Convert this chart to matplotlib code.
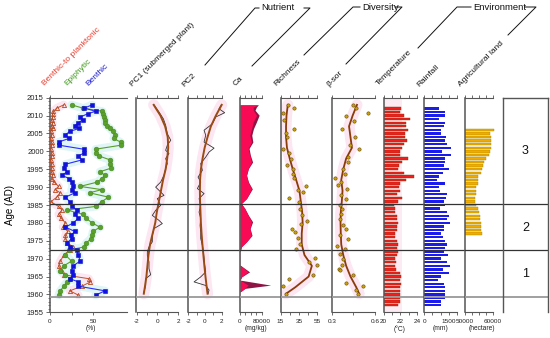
import matplotlib
matplotlib.use('Agg')
import matplotlib.pyplot as plt
from matplotlib.lines import Line2D

plt.rcParams['font.family'] = ['Liberation Sans', 'DejaVu Sans']

W, H = 550, 338

# ---- diatoms (%), one sample list shared by the three series
diatom_yr = [2013.0, 2012.1, 2011.2, 2010.5, 2009.6, 2008.8, 2008.0, 2007.2, 2006.4, 2005.6,
             2004.6, 2003.6, 2002.6, 2001.7, 2000.6, 1999.6, 1998.7, 1997.6, 1996.4, 1995.3,
             1994.3, 1993.3, 1992.4, 1991.4, 1990.2, 1989.3, 1988.4, 1987.2, 1985.9, 1984.6,
             1983.6, 1982.4, 1981.3, 1980.0, 1978.8, 1977.6, 1976.5, 1975.6, 1974.4, 1973.3,
             1972.4, 1971.0, 1969.3, 1968.0, 1966.6, 1965.5, 1964.4, 1963.5, 1962.3, 1961.0, 1959.8]
benthic = [49, 40, 53, 44, 35, 38, 33, 29, 34, 23, 18, 22, 10, 11, 39, 40, 33, 37, 18, 16,
           20, 14, 22, 25, 27, 25, 29, 18, 23, 26, 31, 29, 33, 27, 18, 29, 24, 25, 20, 23,
           31, 33, 35, 27, 25, 27, 23, 33, 33, 64, 53]
epiphytic = [25, 38, 61, 62, 63, 64, 64, 66, 70, 73, 76, 74, 82, 82, 53, 53, 57, 70, 70, 71,
             58, 64, 60, 55, 35, 60, 46, 68, 60, 53, 20, 38, 42, 49, 58, 50, 49, 48, 42, 40,
             22, 18, 25, 16, 12, 18, 23, 20, 16, 12, 10]
benthic_plank = [16, 8, 4, 3, 3, 2, 3, 2, 3, 1, 2, 1, 2, 2, 1, 2, 2, 1, 2, 2,
                 2, 3, 2, 5, 10, 6, 12, 8, 1, 10, 14, 10, 13, 18, 15, 21, 18, 18, 20, 27,
                 23, 16, 12, 10, 14, 16, 45, 47, 37, 23, 33]

# ---- PCA scores
pc1_yr = [2013.0, 2011.0, 2009.1, 2007.3, 2004.9, 2003.1, 2001.7, 2000.3, 1999.4, 1998.0,
          1996.6, 1995.2, 1993.3, 1991.4, 1990.0, 1989.1, 1987.7, 1986.8, 1984.9, 1983.5,
          1982.1, 1980.7, 1979.8, 1978.4, 1976.5, 1974.7, 1973.3, 1971.9, 1970.9, 1969.1,
          1967.2, 1965.5, 1964.4, 1962.5, 1960.7]
pc1 = [-0.32, 0.16, 0.58, 0.8, 0.96, 1.29, 0.96, 0.8, 1.12, 0.8, 0.96, 0.8, 0.64, 0.32, -0.16,
       0.16, 0.64, 0.0, 0.32, -0.16, -0.48, 0.16, 0.48, -0.32, -0.48, -0.48, -0.8, -0.96, -0.96,
       -0.8, -0.8, -0.64, -1.12, -1.12, -1.28]
pc2_yr = [2013.0, 2011.9, 2010.8, 2009.6, 2007.7, 2005.9, 2004.5, 2002.6, 2000.9, 1999.8,
          1998.4, 1996.6, 1994.7, 1992.8, 1991.4, 1989.6, 1988.2, 1986.8, 1984.9, 1983.0,
          1981.2, 1979.3, 1977.4, 1975.6, 1973.7, 1971.9, 1970.0, 1968.1, 1966.3, 1964.9,
          1963.5, 1962.5, 1961.2, 1960.2]
pc2 = [1.96, 1.68, 2.36, 1.28, 0.88, -0.12, 0.08, -0.12, 1.08, 0.48, 0.08, -0.52, -0.32, -0.84,
       -0.52, -0.92, -0.12, -0.72, -0.52, -0.72, -0.52, -0.6, -0.52, -0.52, -0.32, -0.2, -0.12,
       -0.04, 0.08, -0.52, -1.32, 0.08, 0.48, 0.36]

# smoothed curves
smooth_yr = [2013, 2010, 2007, 2004, 2001, 1998, 1995, 1992, 1989, 1986,
             1983, 1980, 1977, 1974, 1971, 1968, 1965, 1962, 1960.2]
pc1_smooth = [-0.35, 0.3, 0.75, 1.0, 1.05, 0.95, 0.8, 0.55, 0.35, 0.15,
              -0.05, -0.2, -0.45, -0.7, -0.85, -0.95, -1.05, -1.2, -1.3]
pc2_smooth = [2.0, 1.3, 0.7, 0.3, -0.05, -0.3, -0.5, -0.6, -0.62, -0.6,
              -0.55, -0.5, -0.42, -0.32, -0.2, -0.08, 0.05, 0.2, 0.3]
rich_smooth = [22.9, 21.5, 21.0, 21.0, 22.0, 25.0, 28.3, 32.0, 35.5, 37.0,
               38.5, 39.0, 38.0, 38.0, 41.0, 49.0, 45.5, 31.0, 21.0]
beta_smooth = [0.475, 0.445, 0.42, 0.43, 0.44, 0.40, 0.38, 0.366, 0.375, 0.37,
               0.363, 0.361, 0.363, 0.366, 0.38, 0.40, 0.43, 0.47, 0.49]

# ---- Ca (mg/kg)
ca_yr = [2013.0, 2012.4, 2011.5, 2010.1, 2008.2, 2006.3, 2004.5, 2002.6, 2000.8, 1998.9,
         1997.0, 1995.2, 1993.3, 1991.4, 1989.5, 1987.7, 1986.8, 1985.4, 1984.0, 1982.1,
         1980.3, 1978.4, 1976.5, 1974.7, 1973.3, 1971.9, 1970.0, 1968.2, 1966.3, 1964.9,
         1964.0, 1962.6, 1961.7, 1960.7, 1959.8]
ca = [67000, 48400, 48400, 60800, 48400, 42100, 35900, 42100, 29800, 35900,
      42100, 29800, 23600, 29800, 42100, 29800, 23600, 5000, 17400, 29800,
      42100, 35900, 42100, 23600, 5000, 500, 500, 500, 29800, 5000,
      500, 29800, 17400, 500, 0]
ca_dark = [67000, 60000, 55000, 70000, 60000, 49000, 43000, 47000, 33000, 38000,
           46000, 31000, 24000, 31000, 45000, 31000, 24000, 5000, 18000, 31000,
           46000, 37000, 44000, 24000, 5000, 500, 500, 500, 35000, 6000,
           500, 112000, 19000, 500, 0]

# ---- diversity
rich_yr = [2013.0, 2012.1, 2010.8, 2008.7, 2006.3, 2005.2, 2004.0, 2000.7, 1999.4, 1998.0,
           1996.3, 1995.2, 1993.8, 1992.5, 1990.3, 1989.1, 1988.6, 1987.0, 1985.8, 1984.0,
           1982.1, 1980.4, 1979.8, 1978.2, 1977.5, 1975.8, 1974.2, 1972.8, 1970.2, 1969.1,
           1968.1, 1965.5, 1964.4, 1962.4, 1960.2]
richness = [22.9, 29.4, 17.5, 19.3, 29.4, 21.1, 21.8, 17.5, 24.7, 26.5,
            22.2, 28.3, 28.3, 30.1, 42.7, 34.4, 39.1, 24.7, 35.5, 36.6,
            38.0, 43.8, 37.3, 27.2, 30.8, 34.4, 36.6, 31.9, 52.4, 46.3,
            54.6, 49.9, 24.7, 17.5, 21.1]
beta_yr = [2013.0, 2012.1, 2010.7, 2009.8, 2008.4, 2006.3, 2004.0, 2001.9, 2000.7, 1998.4,
           1997.0, 1995.0, 1993.8, 1992.5, 1991.4, 1990.5, 1989.4, 1987.7, 1986.8, 1985.0,
           1983.8, 1982.6, 1981.0, 1979.5, 1978.2, 1976.5, 1975.6, 1973.5, 1972.8, 1971.2,
           1969.8, 1968.3, 1967.0, 1966.7, 1965.3, 1963.3, 1962.4, 1961.1, 1960.2]
beta_sor = [0.446, 0.469, 0.553, 0.400, 0.457, 0.370, 0.462, 0.430, 0.491, 0.416,
            0.411, 0.375, 0.390, 0.320, 0.366, 0.343, 0.405, 0.361, 0.400, 0.360,
            0.370, 0.366, 0.355, 0.377, 0.400, 0.355, 0.411, 0.339, 0.389, 0.360,
            0.380, 0.370, 0.350, 0.355, 0.446, 0.400, 0.514, 0.469, 0.480]

# ---- environment (yearly, newest first)
clim_yr = list(range(2012, 1956, -1))
temperature = [22.1, 22.0, 22.4, 23.1, 22.7, 22.7, 22.9, 22.6, 22.5, 22.8, 22.4, 22.2, 22.0, 22.0,
               22.9, 22.2, 21.8, 21.7, 22.4, 23.6, 22.7, 22.0, 21.8, 22.0, 21.6, 22.2, 21.7, 21.2,
               21.4, 21.3, 21.6, 21.6, 21.7, 21.6, 21.6, 21.3, 21.4, 21.6, 21.7, 21.6, 21.7, 21.6,
               21.4, 21.5, 21.4, 21.5, 22.0, 22.1, 21.9, 22.1, 22.0, 21.9, 21.9, 21.9, 22.0, 21.7]
rainfall = [917, 1242, 1242, 917, 1242, 1181, 1039, 1039, 1344, 1242, 1385, 1649, 1080, 1629,
            1242, 1242, 1202, 1527, 1120, 917, 775, 1242, 917, 958, 1385, 1344, 1181, 1242,
            978, 1385, 1486, 1385, 1568, 1181, 1181, 1039, 1120, 1283, 1385, 1283, 1181, 1446,
            1039, 1385, 1547, 1120, 1527, 1039, 836, 1202, 1283, 1283, 1242, 1283, 1039, 1019]
agri_yr = list(range(2006, 1976, -1))
agri_land = [60600, 59000, 59400, 59400, 59400, 59400, 59000, 58700, 57500, 57000,
             56700, 56100, 55800, 54900, 54900, 54900, 54000, 54000, 54000, 53700,
             53700, 54000, 54900, 55200, 55500, 55500, 55800, 55800, 55800, 56100]

zone_bounds = [1985.3, 1972.3]
zone_base = 1959.3
zone_labels = [('3', 2000.2), ('2', 1978.7), ('1', 1965.6)]

PINK = '#fce6f1'
CYAN = '#e0f6f6'

fig = plt.figure(figsize=(W / 100, H / 100), dpi=100)


def fx(x):
    return x / W


def fy(y):
    return 1 - y / H


Y_TOP, Y_BOT = 97.7, 312.3


def panel(x0, x1):
    return fig.add_axes([fx(x0), fy(Y_BOT), fx(x1) - fx(x0), (Y_BOT - Y_TOP) / H])


def style(ax, xlim, ticks, labels, bounds):
    ax.set_xlim(*xlim)
    ax.set_ylim(1955, 2015)
    ax.patch.set_alpha(0)
    ax.spines['right'].set_visible(False)
    ax.spines['left'].set_color('#555555')
    ax.spines['left'].set_linewidth(1.1)
    for s in ('top', 'bottom'):
        ax.spines[s].set_bounds(*bounds)
        ax.spines[s].set_color('#555555')
        ax.spines[s].set_linewidth(0.8)
    ax.set_xticks(ticks)
    ax.set_xticklabels(labels)
    ax.tick_params(axis='x', top=True, bottom=True, direction='out', length=2.5,
                   width=0.6, colors='#555555', labelcolor='#222222', labelsize=4.6, pad=2)
    ax.tick_params(axis='y', left=False, labelleft=False)
    for y in zone_bounds:
        ax.axhline(y, color='#333333', lw=0.9, zorder=6)
    ax.axhline(zone_base, color='#999999', lw=1.3, zorder=6)


# panel 1: diatoms
ax = panel(50, 136)
ax.plot(benthic_plank, diatom_yr, color=PINK, lw=6, zorder=1, solid_capstyle='round')
ax.plot(epiphytic, diatom_yr, color=CYAN, lw=6, zorder=1, solid_capstyle='round')
ax.plot(benthic, diatom_yr, color=CYAN, lw=6, zorder=1, solid_capstyle='round')
ax.plot(benthic_plank, diatom_yr, color='#c8502a', lw=0.7, marker='^', ms=3,
        mfc='none', mec='#b84a20', mew=0.6, zorder=3)
ax.plot(epiphytic, diatom_yr, color='#5c9e28', lw=0.8, marker='o', ms=3.4,
        mfc='#5aa02c', mec='#4a8a20', mew=0.4, zorder=4)
ax.plot(benthic, diatom_yr, color='#2c2cff', lw=0.8, marker='s', ms=3.2,
        mfc='#1010e0', mec='#1010c0', mew=0.4, zorder=5)
style(ax, (0, 100), [0, 25, 50], ['0', '', '50'], (0, 90))
ax.tick_params(axis='y', left=True, labelleft=True, direction='out', length=3, width=0.6,
               colors='#555555', labelcolor='#222222', labelsize=5.5, pad=1.5)
ax.set_yticks(range(1955, 2016, 5))
ax.set_yticks(range(1955, 2016), minor=True)
ax.tick_params(axis='y', which='minor', length=1.8, width=0.5, colors='#555555')

# panel 2: PC1
ax = panel(136, 188)
ax.plot(pc1_smooth, smooth_yr, color=PINK, lw=8, zorder=1, solid_capstyle='round')
ax.plot(pc1, pc1_yr, color='#333333', lw=0.6, zorder=2)
ax.plot(pc1_smooth, smooth_yr, color='#9a4a12', lw=1.4, zorder=3)
style(ax, (-2.05, 2.95), [-2, -1, 0, 1, 2], ['-2', '', '0', '', '2'], (-2, 2))

# panel 3: PC2
ax = panel(188, 240)
ax.plot(pc2_smooth, smooth_yr, color=PINK, lw=8, zorder=1, solid_capstyle='round')
ax.plot(pc2, pc2_yr, color='#333333', lw=0.6, zorder=2)
ax.plot(pc2_smooth, smooth_yr, color='#9a4a12', lw=1.4, zorder=3)
style(ax, (-2.05, 4.2), [-2, -1, 0, 1, 2], ['-2', '', '0', '', '2'], (-2, 2))

# panel 4: Ca
ax = panel(240, 280.5)
ax.fill_betweenx(ca_yr, 0, ca_dark, color='#8e1446', lw=0, zorder=1)
ax.fill_betweenx(ca_yr, 0, ca, color='#f80a55', lw=0, zorder=2)
style(ax, (0, 148000), [0, 20000, 40000, 60000, 80000], ['0', '', '', '', '80000'], (0, 80000))

# panel 5: richness
ax = panel(280.5, 331.7)
ax.plot(rich_smooth, smooth_yr, color=PINK, lw=8, zorder=1, solid_capstyle='round')
ax.plot(rich_smooth, smooth_yr, color='#8b3a0a', lw=1.3, zorder=2)
ax.plot(richness, rich_yr, ls='none', marker='o', ms=2.4, mfc='#c8a010', mec='#6a4a00',
        mew=0.4, zorder=3)
style(ax, (15, 70.5), [15, 25, 35, 45, 55], ['15', '', '35', '', '55'], (15, 55))

# panel 6: beta-sor
ax = panel(331.7, 383.7)
ax.plot(beta_smooth, smooth_yr, color=PINK, lw=8, zorder=1, solid_capstyle='round')
ax.plot(beta_smooth, smooth_yr, color='#8b3a0a', lw=1.3, zorder=2)
ax.plot(beta_sor, beta_yr, ls='none', marker='o', ms=2.4, mfc='#c8a010', mec='#6a4a00',
        mew=0.4, zorder=3)
style(ax, (0.3, 0.66), [0.3, 0.45, 0.6], ['0.3', '', '0.6'], (0.3, 0.6))

# panel 7: temperature
ax = panel(383.7, 424.2)
ax.axvspan(20, 22.2, color='#fdebf3', lw=0, zorder=0)
ax.barh(clim_yr, temperature, height=0.65, color='#f41c1c', edgecolor='#7a3a10',
        linewidth=0.3, zorder=2)
style(ax, (20, 24.85), [20, 21, 22, 23, 24], ['20', '', '22', '', '24'], (20, 24))

# panel 8: rainfall
ax = panel(424.2, 464.5)
ax.barh(clim_yr, rainfall, height=0.65, color='#1c1ce8', lw=0, zorder=2)
style(ax, (0, 2450), [0, 500, 1000, 1500, 2000], ['0', '', '', '1500', ''], (0, 2000))

# panel 9: agricultural land
ax = panel(464.5, 503)
ax.barh(agri_yr, agri_land, height=0.65, color='#f2a900', edgecolor='#a09000',
        linewidth=0.3, zorder=2)
style(ax, (50000, 63700), [50000, 52500, 55000, 57500, 60000],
      ['50000', '', '', '', '60000'], (50000, 60000))

# panel 10: zones
ax = panel(503, 548)
ax.set_xlim(0, 1)
ax.set_ylim(1955, 2015)
ax.set_xticks([])
ax.set_yticks([])
ax.spines['bottom'].set_visible(False)
for s in ('left', 'right', 'top'):
    ax.spines[s].set_color('#555555')
    ax.spines[s].set_linewidth(1.0)
for y in zone_bounds:
    ax.axhline(y, color='#333333', lw=0.9)
ax.axhline(zone_base, color='#999999', lw=1.3)
for lab, y in zone_labels:
    ax.text(0.5, y, lab, ha='center', va='center', fontsize=9, color='#111111')

# axis title and units
fig.text(fx(10), fy(205), 'Age (AD)', rotation=90, ha='center', va='center', fontsize=7)
for txt, x in [('(%)', 91), ('(mg/kg)', 256), ('(°C)', 400), ('(mm)', 441), ('(hectare)', 482)]:
    fig.text(fx(x), fy(329), txt, ha='center', va='center', fontsize=4.8, color='#222222')

# rotated column headers
headers = [
    ('Benthic-to planktonic', 45, 86, '#e83a2a'),
    ('Epiphytic', 67, 86, '#3f9a1c'),
    ('Benthic', 88, 86, '#1515d0'),
    ('PC1 (submerged plant)', 133, 87, '#111111'),
    ('PC2', 184, 87, '#111111'),
    ('Ca', 236, 86, '#111111'),
    ('Richness', 276, 86, '#111111'),
    ('β-sor', 329, 87, '#111111'),
    ('Temperature', 378, 86, '#111111'),
    ('Rainfall', 419, 87, '#111111'),
    ('Agricultural land', 461, 87, '#111111'),
]
for txt, x, y, c in headers:
    fig.text(fx(x), fy(y), txt, rotation=45, rotation_mode='anchor', ha='left',
             va='baseline', fontsize=6, color=c)

# group brackets
groups = [
    ('Nutrient', 261, [(205, 65), (255, 8), (259, 8)], [(304, 8), (310, 8), (252, 66)]),
    ('Diversity', 362, [(304, 55), (353, 7), (360, 7)], [(395, 7), (402, 7), (346, 64)]),
    ('Environment', 473, [(418, 48), (457, 7), (471, 7)], [(525, 7), (536, 7), (508, 35)]),
]
for name, tx, left, right in groups:
    fig.text(fx(tx), fy(8), name, ha='left', va='center', fontsize=6.8, color='#111111')
    for pts in (left, right):
        fig.add_artist(Line2D([fx(p[0]) for p in pts], [fy(p[1]) for p in pts],
                              color='#111111', lw=0.7))

fig.savefig('out.png', dpi=100)
